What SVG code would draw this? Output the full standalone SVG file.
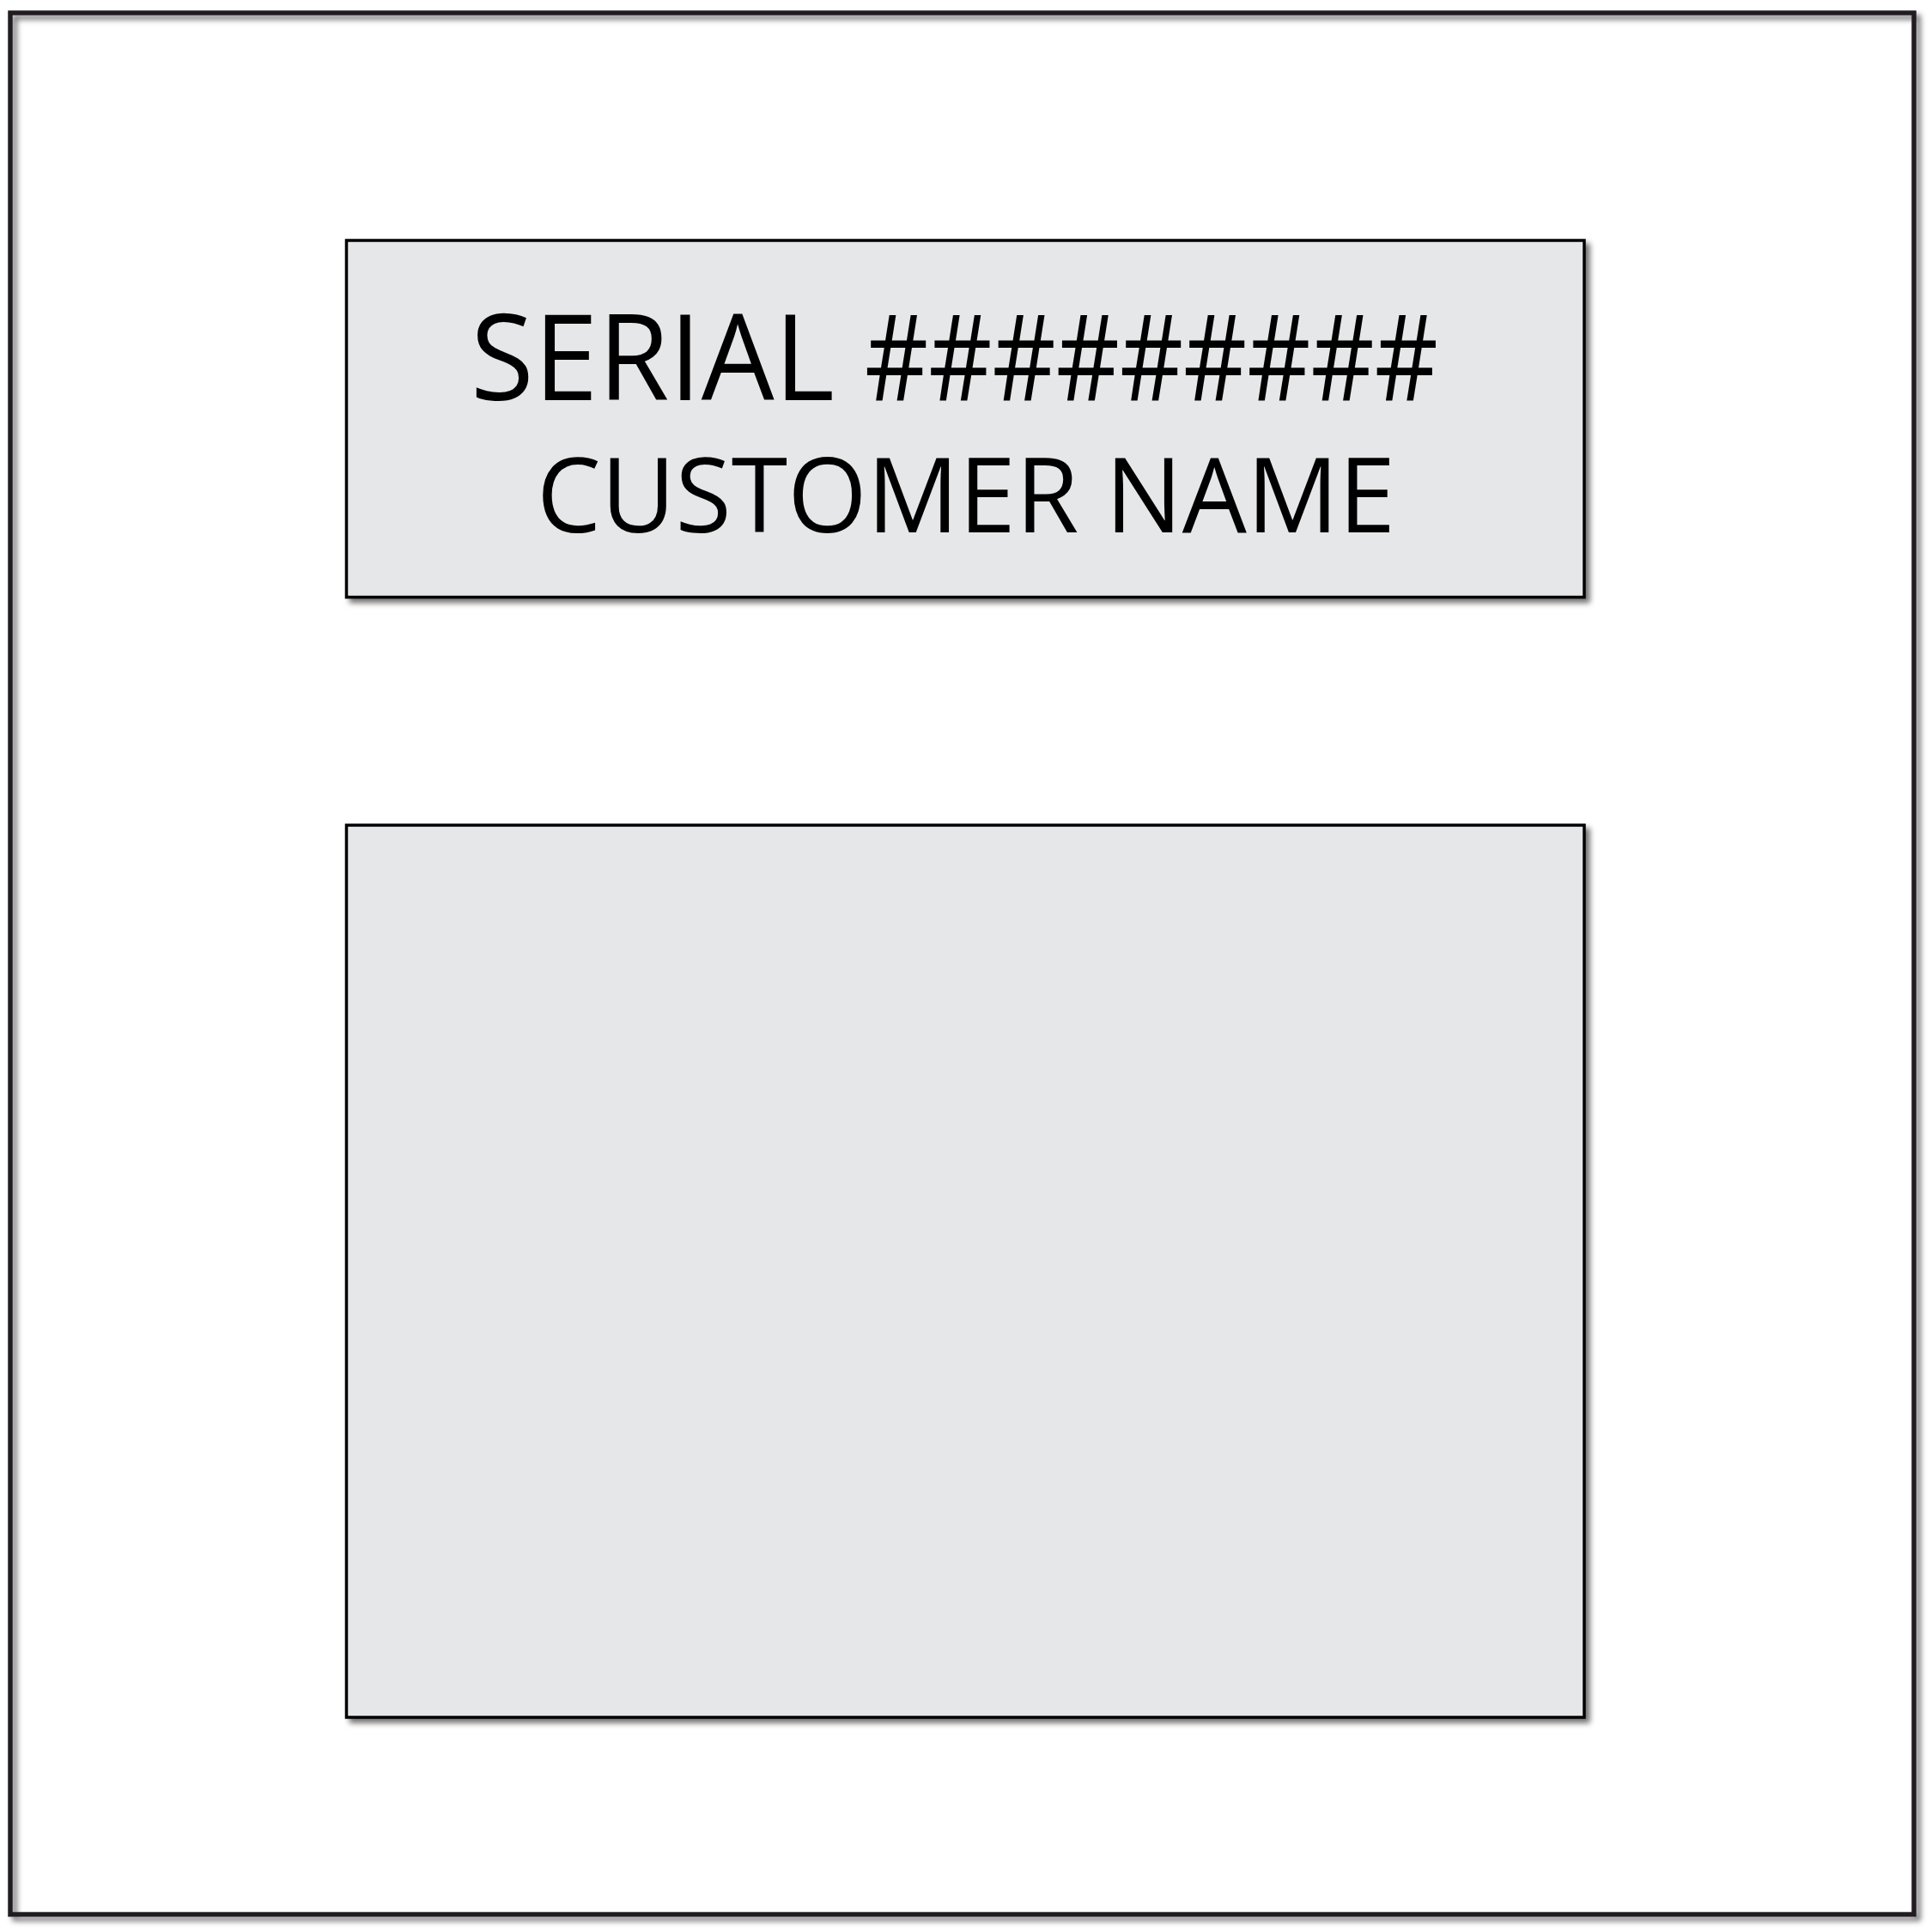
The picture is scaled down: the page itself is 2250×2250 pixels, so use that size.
<svg xmlns="http://www.w3.org/2000/svg" width="2250" height="2250" viewBox="0 0 2250 2250">
  <defs>
    <filter id="shadow" x="-5%" y="-5%" width="110%" height="110%">
      <feDropShadow dx="5" dy="5" stdDeviation="3" flood-color="#000" flood-opacity="0.55"/>
    </filter>
  </defs>
  <style>
    .panel { fill: #e6e7e8; stroke: #000; stroke-width: 3.5; }
    .frame { fill: none; stroke: #231f20; stroke-width: 5.5; }
    .label { font-family: "Open Sans", "Noto Sans", "Liberation Sans", sans-serif; fill: #000; }
  </style>
  <rect x="0" y="0" width="2250" height="2250" fill="#ffffff"/>
  <g id="frame" filter="url(#shadow)">
    <rect class="frame" x="12" y="15" width="2217" height="2214.5"/>
  </g>
  <g id="label-panel" filter="url(#shadow)">
    <rect class="panel" x="403.5" y="280" width="1441.5" height="415.5"/>
    <text class="label" y="466" font-size="140"><tspan x="548" textLength="424" lengthAdjust="spacingAndGlyphs">SERIAL</tspan><tspan x="1007" textLength="668" lengthAdjust="spacingAndGlyphs">#########</tspan></text>
    <text class="label" x="625" y="620" font-size="121" textLength="1000" lengthAdjust="spacingAndGlyphs">CUSTOMER NAME</text>
  </g>
  <g id="blank-panel" filter="url(#shadow)">
    <rect class="panel" x="403.5" y="961" width="1441.5" height="1039"/>
  </g>
  <g id="connectors"></g>
</svg>
